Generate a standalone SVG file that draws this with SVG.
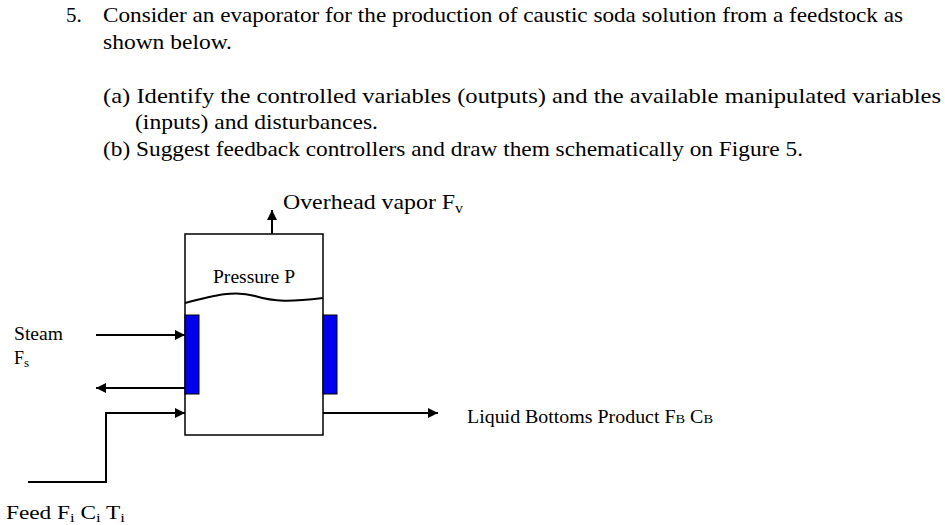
<svg xmlns="http://www.w3.org/2000/svg" width="945" height="525" viewBox="0 0 945 525">
<defs><marker id="ah" viewBox="0 0 10 10" refX="10" refY="5" markerWidth="10" markerHeight="10" markerUnits="userSpaceOnUse" orient="auto"><path d="M0,0L10,5L0,10z" fill="#000"/></marker></defs>
<style>text{font-family:"Liberation Serif",serif;fill:#000}.t{font-size:21px}.s{font-size:18px}.l{stroke:#000;stroke-width:2;fill:none}.b{fill:#0000ee;stroke:#000;stroke-width:1}</style>
<rect width="945" height="525" fill="#fff"/>
<g id="question">
<text class="t" x="66" y="22">5.</text>
<text class="t" x="103" y="22" textLength="800" lengthAdjust="spacingAndGlyphs">Consider an evaporator for the production of caustic soda solution from a feedstock as</text>
<text class="t" x="103" y="49" textLength="129" lengthAdjust="spacingAndGlyphs">shown below.</text>
<text class="t" x="103" y="103" textLength="838" lengthAdjust="spacingAndGlyphs">(a) Identify the controlled variables (outputs) and the available manipulated variables</text>
<text class="t" x="135" y="129" textLength="243" lengthAdjust="spacingAndGlyphs">(inputs) and disturbances.</text>
<text class="t" x="103" y="156" textLength="700" lengthAdjust="spacingAndGlyphs">(b) Suggest feedback controllers and draw them schematically on Figure 5.</text>
</g>
<g id="evaporator">
<rect x="185" y="234" width="138" height="201" fill="#fff" stroke="#000" stroke-width="1.5"/>
<path d="M185,303 C215,295 235,290 255,296 C275,302 290,302 323,298" class="l" stroke-width="1.5"/>
<text class="s" x="213" y="283" textLength="82" lengthAdjust="spacingAndGlyphs">Pressure P</text>
</g>
<g id="jacket-left"><rect class="b" x="185" y="315" width="14" height="79"/></g>
<g id="jacket-right"><rect class="b" x="323" y="315" width="14" height="79"/></g>
<g id="labels">
<text class="t" x="283" y="209" textLength="180" lengthAdjust="spacingAndGlyphs">Overhead vapor F<tspan font-size="14" dy="4">v</tspan></text>
<text class="s" x="14" y="340" textLength="49" lengthAdjust="spacingAndGlyphs">Steam</text>
<text class="s" x="14" y="364">F<tspan font-size="13" dy="3">s</tspan></text>
<text class="s" x="467" y="423" textLength="246" lengthAdjust="spacingAndGlyphs">Liquid Bottoms Product  F<tspan font-size="13">B</tspan>  C<tspan font-size="13">B</tspan></text>
<text class="s" x="6" y="519" textLength="119" lengthAdjust="spacingAndGlyphs">Feed  F<tspan font-size="13" dy="3">i</tspan><tspan dy="-3">  C</tspan><tspan font-size="13" dy="3">i</tspan><tspan dy="-3">   T</tspan><tspan font-size="13" dy="3">i</tspan></text>
</g>
<g id="connectors">
<line class="l" x1="272" y1="234" x2="272" y2="210" marker-end="url(#ah)"/>
<line class="l" x1="96" y1="335" x2="185" y2="335" marker-end="url(#ah)"/>
<line class="l" x1="185" y1="388" x2="96" y2="388" marker-end="url(#ah)"/>
<polyline class="l" points="28,482 106,482 106,413 185,413" marker-end="url(#ah)"/>
<line class="l" x1="323" y1="413" x2="438" y2="413" marker-end="url(#ah)"/>
</g>
</svg>
